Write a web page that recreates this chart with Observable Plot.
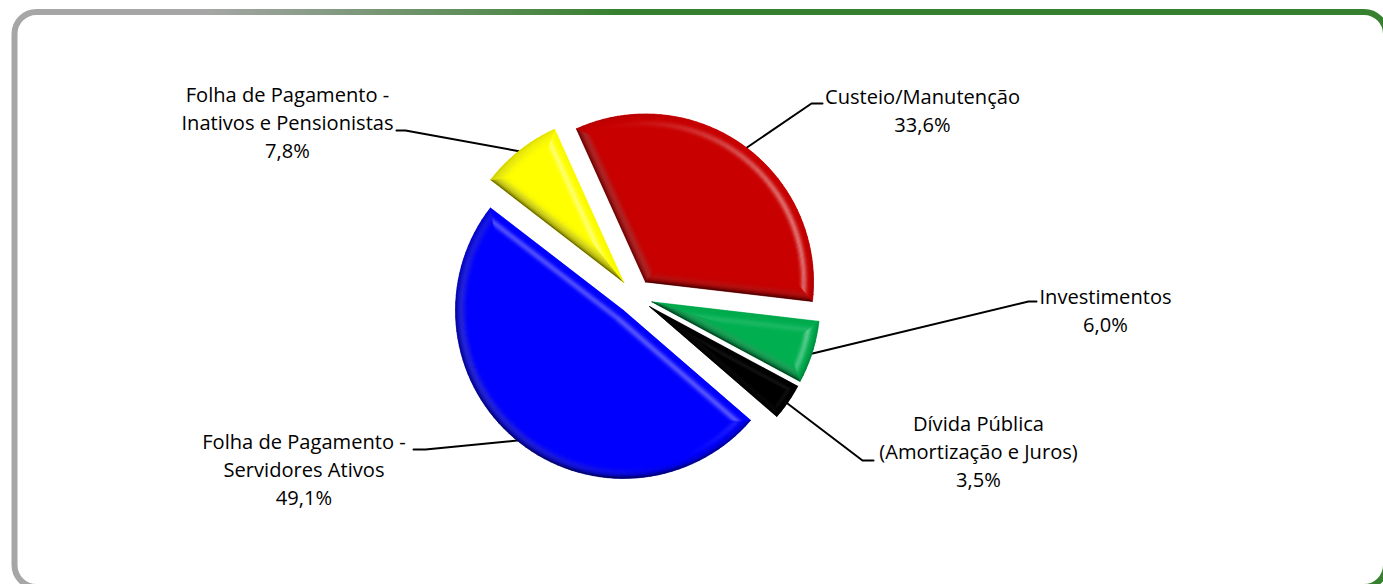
<!DOCTYPE html>
<html lang="pt">
<head>
<meta charset="utf-8">
<script src="https://cdn.jsdelivr.net/npm/d3@7"></script>
<script src="https://cdn.jsdelivr.net/npm/@observablehq/plot@0.6"></script>
<style>html,body{margin:0;padding:0;background:#fff;overflow:hidden}</style>
</head>
<body>
<div id="chart"></div>
<script>
// --- data
const categories = ["Custeio/Manutenção","Investimentos","Dívida Pública\n(Amortização e Juros)","Folha de Pagamento -\nServidores Ativos","Folha de Pagamento -\nInativos e Pensionistas"];
const shares = [33.6, 6.0, 3.5, 49.1, 7.8];
const sliceColors = ["#C80000","#00B050","#000000","#0000FF","#FFFF00"];

// --- layout (pixels in the frame)
const W = 1383, H = 584;
const pie = {cx: 634.4, cy: 296, r: 168, explode: 18, start: -24.3, bevel: 16, bands: 14};
const labelX = [922, 1105, 978, 303.5, 287];
const labelY = [108.5, 308.5, 449.5, 467.5, 120.5];
const leaders = [
  [[822,103],[811,103],[745,148]],
  [[1036,301],[1028,301],[812,353]],
  [[873,460],[862,460],[787,403]],
  [[413,449],[425,449],[517,440]],
  [[396,130],[405,130],[520,151]]
];
const light = [0.95, -0.31];

// --- geometry helpers
const rad = d => d * Math.PI / 180;
const dirOf = a => [Math.sin(a), -Math.cos(a)];
const clamp = (v, a, b) => Math.max(a, Math.min(b, v));
function shade(base, normal, t) {
  const s = normal[0]*light[0] + normal[1]*light[1];
  const gain = d3.hsl(base).l > 0 ? 1 : 0.3;
  const dark = Math.pow(1-t, 5) * clamp(0.45 + 0.35*normal[1] - 0.3*Math.max(0, normal[0]), 0, 0.9);
  const high = Math.exp(-Math.pow((t-0.62)/0.2, 2)) * Math.pow(Math.max(0,s), 1.6) * 0.45 * gain;
  const grey = Math.exp(-Math.pow((t-0.35)/0.28, 2)) * Math.max(0,-s) * 0.3 * gain;
  let c = d3.interpolateRgb(base, "#ffffff")(high);
  c = d3.interpolateRgb(c, "#888888")(grey);
  c = d3.interpolateRgb(c, "#000000")(dark);
  return d3.rgb(c).formatHex();
}

const polys = [];
let id = 0;
function poly(points, fill) {
  id++;
  for (const p of points) polys.push({id, x: p[0], y: p[1], fill});
}
let cum = pie.start;
const total = d3.sum(shares);
shares.forEach((v, i) => {
  const a0 = rad(cum), span = rad(v / total * 360), a1 = a0 + span, mid = (a0 + a1) / 2;
  cum += v / total * 360;
  const md = dirOf(mid);
  const A = [pie.cx + pie.explode*md[0], pie.cy + pie.explode*md[1]];
  const P = (a, rho) => { const u = dirOf(a); return [A[0]+rho*u[0], A[1]+rho*u[1]]; };
  const apex = d => P(mid, d / Math.sin(span/2));
  const base = sliceColors[i];
  // narrow slices cannot take the full bevel
  const halfWidth = pie.r * Math.sin(span/2);
  const D = Math.min(pie.bevel, halfWidth * 0.62);
  const ang0 = d => a0 + Math.asin(d / (pie.r - d));
  const ang1 = d => a1 - Math.asin(d / (pie.r - d));
  const steps = Math.ceil(span / rad(2.5));
  const arc = d => d3.range(steps+1).map(k => P(ang0(d) + (ang1(d)-ang0(d))*k/steps, pie.r - d));
  // base-coloured underlay, bands from the rim inwards, flat top last
  poly([apex(0), ...arc(0), apex(0)], base);
  for (let b = 0; b < pie.bands; b++) {
    const d0 = D*b/pie.bands, d1 = D*(b+1)/pie.bands, t = (b+0.5)/pie.bands;
    const n0 = dirOf(a0 - Math.PI/2), n1 = dirOf(a1 + Math.PI/2);
    poly([apex(d0), P(ang0(d0), pie.r-d0), P(ang0(d1), pie.r-d1), apex(d1), apex(d0)], shade(base, n0, t));
    poly([apex(d0), P(ang1(d0), pie.r-d0), P(ang1(d1), pie.r-d1), apex(d1), apex(d0)], shade(base, n1, t));
    const o = arc(d0), q = arc(d1);
    for (let k = 0; k < steps; k++) {
      const n = dirOf(ang0(d0) + (ang1(d0)-ang0(d0))*(k+0.5)/steps);
      poly([o[k], o[k+1], q[k+1], q[k], o[k]], shade(base, n, t));
    }
  }
  poly([apex(D), ...arc(D), apex(D)], base);
});

const leaderPoints = leaders.flatMap((l, i) => l.map(p => ({i, x: p[0], y: p[1]})));
const labels = categories.map((c, i) => ({
  text: c + "\n" + shares[i].toFixed(1).replace(".", ",") + "%",
  x: labelX[i], y: labelY[i]
}));

const defs = () => {
  const svg = d3.create("svg:defs");
  const g = svg.append("linearGradient").attr("id","frameGrad").attr("x1","0").attr("x2","1").attr("y1","0").attr("y2","0");
  g.append("stop").attr("offset","0.14").attr("stop-color","#a6a6a6");
  g.append("stop").attr("offset","0.44").attr("stop-color","#37802f");
  return svg.node();
};

const chart = Plot.plot({
  width: W, height: H, margin: 0,
  x: {type:"linear", domain:[0,W], range:[0,W], axis:null},
  y: {type:"linear", domain:[0,H], range:[0,H], axis:null},
  color: {type:"identity"},
  style: {fontFamily:"'Open Sans', sans-serif", background:"#fff", overflow:"hidden"},
  marks: [
    defs,
    Plot.rect([0], {x1:()=>14.5, x2:()=>1386, y1:()=>12, y2:()=>587, rx:22, fill:"#fff", stroke:"url(#frameGrad)", strokeWidth:6}),
    Plot.line(leaderPoints, {x:"x", y:"y", z:"i", stroke:"#000", strokeWidth:2}),
    Plot.line(polys, {x:"x", y:"y", z:"id", fill:"fill", stroke:"fill", strokeWidth:0.4}),
    Plot.text(labels, {x:"x", y:"y", text:"text", fontSize:20.1, lineHeight:1.41, fill:"#000", textAnchor:"middle", lineAnchor:"middle"})
  ]
});
document.getElementById("chart").appendChild(chart);
</script>
</body>
</html>
